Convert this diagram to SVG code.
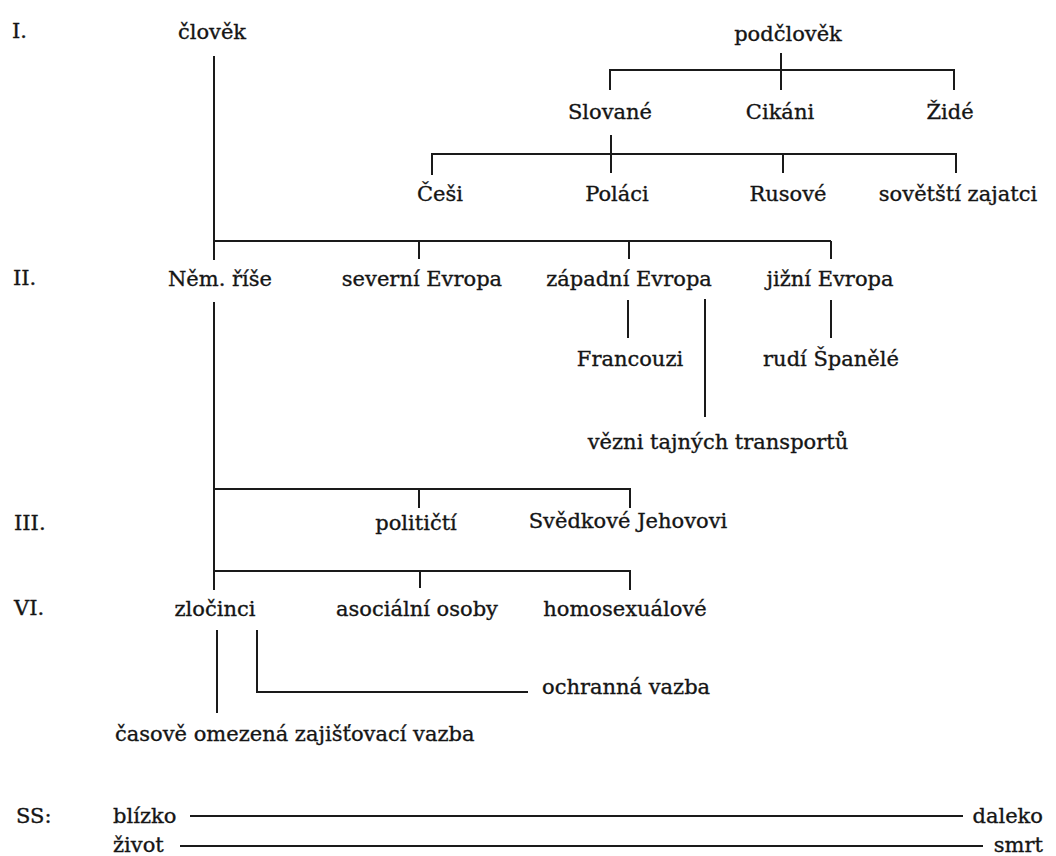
<svg xmlns="http://www.w3.org/2000/svg" width="1056" height="856" viewBox="0 0 1056 856">
<style>
text{font-family:"DejaVu Serif","Liberation Serif",serif;font-size:21px;fill:#151515;stroke:#151515;stroke-width:0.35}
.m{text-anchor:middle}
.e{text-anchor:end}
#connectors line,#connectors polyline{stroke:#1a1a1a;stroke-width:2;fill:none}
</style>
<rect width="1056" height="856" fill="#fff"/>
<g id="levels">
<text x="12" y="38">I.</text>
<text x="13" y="285">II.</text>
<text x="14" y="530">III.</text>
<text x="14" y="615">VI.</text>
<text x="16" y="823">SS:</text>
</g>
<g id="connectors">
<line x1="214" y1="56" x2="214" y2="260"/>
<line x1="214" y1="241" x2="831" y2="241"/>
<line x1="419" y1="241" x2="419" y2="259"/>
<line x1="629" y1="241" x2="629" y2="259"/>
<line x1="831" y1="241" x2="831" y2="259"/>
<line x1="781" y1="53" x2="781" y2="90"/>
<polyline points="610,90 610,70 954,70 954,90"/>
<line x1="611" y1="135" x2="611" y2="173"/>
<polyline points="432,175 432,154 956,154 956,173"/>
<line x1="783" y1="154" x2="783" y2="173"/>
<line x1="628" y1="300" x2="628" y2="338"/>
<line x1="705" y1="299" x2="705" y2="417"/>
<line x1="831" y1="300" x2="831" y2="338"/>
<line x1="214" y1="302" x2="214" y2="590"/>
<polyline points="214,489 630,489 630,508"/>
<line x1="419" y1="489" x2="419" y2="508"/>
<polyline points="214,571 630,571 630,590"/>
<line x1="420" y1="571" x2="420" y2="588"/>
<line x1="217" y1="630" x2="217" y2="713"/>
<polyline points="257,630 257,692 528,692"/>
<line x1="190" y1="816" x2="963" y2="816"/>
<line x1="180" y1="846" x2="983" y2="846"/>
</g>
<g id="clovek"><text class="m" x="212" y="39">člověk</text></g>
<g id="podclovek"><text class="m" x="788" y="41">podčlověk</text></g>
<g id="slovane"><text class="m" x="610" y="119">Slované</text></g>
<g id="cikani"><text class="m" x="780" y="119">Cikáni</text></g>
<g id="zide"><text class="m" x="950" y="119">Židé</text></g>
<g id="cesi"><text class="m" x="440" y="201">Češi</text></g>
<g id="polaci"><text class="m" x="617" y="201">Poláci</text></g>
<g id="rusove"><text class="m" x="788" y="201">Rusové</text></g>
<g id="zajatci"><text class="m" x="958" y="201">sovětští zajatci</text></g>
<g id="nemrise"><text class="m" x="220" y="286">Něm. říše</text></g>
<g id="severni"><text class="m" x="422" y="286">severní Evropa</text></g>
<g id="zapadni"><text class="m" x="629" y="286">západní Evropa</text></g>
<g id="jizni"><text class="m" x="830" y="286">jižní Evropa</text></g>
<g id="francouzi"><text class="m" x="630" y="366">Francouzi</text></g>
<g id="spanele"><text class="m" x="831" y="366">rudí Španělé</text></g>
<g id="vezni"><text class="m" x="718" y="449">vězni tajných transportů</text></g>
<g id="politicti"><text class="m" x="416" y="530">političtí</text></g>
<g id="svedkove"><text class="m" x="628" y="528">Svědkové Jehovovi</text></g>
<g id="zlocinci"><text class="m" x="215" y="616">zločinci</text></g>
<g id="asocialni"><text class="m" x="417" y="616">asociální osoby</text></g>
<g id="homosexualove"><text class="m" x="625" y="616">homosexuálové</text></g>
<g id="ochranna"><text x="542" y="694">ochranná vazba</text></g>
<g id="casove"><text x="115" y="741">časově omezená zajišťovací vazba</text></g>
<g id="blizko"><text x="113" y="823">blízko</text></g>
<g id="daleko"><text class="e" x="1043" y="823">daleko</text></g>
<g id="zivot"><text x="113" y="852">život</text></g>
<g id="smrt"><text class="e" x="1043" y="852">smrt</text></g>
</svg>
